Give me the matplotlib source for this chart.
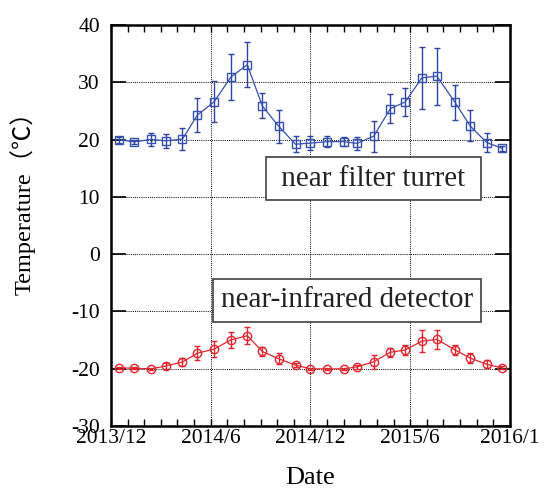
import matplotlib.pyplot as plt
from matplotlib.ticker import MultipleLocator

# months counted from the start of 2013/12
months = [0.5, 1.4, 2.4, 3.3, 4.3, 5.2, 6.2, 7.2, 8.2, 9.1, 10.1, 11.1, 12.0,
          13.0, 14.0, 14.8, 15.8, 16.8, 17.7, 18.7, 19.6, 20.7, 21.6, 22.6, 23.5]

turret = [20.0, 19.6, 20.05, 19.8, 20.1, 24.3, 26.6, 30.9, 33.1, 25.9, 22.3, 19.2, 19.4,
          19.65, 19.65, 19.35, 20.6, 25.4, 26.6, 30.8, 31.1, 26.5, 22.4, 19.5, 18.5]
turret_err = [0.5, 0.4, 1.2, 1.25, 1.9, 3.0, 3.6, 4.0, 3.9, 2.2, 2.85, 1.4, 1.2,
              1.0, 0.8, 1.2, 2.7, 2.5, 2.5, 5.4, 5.0, 3.0, 2.7, 1.7, 0.4]

detector = [-19.85, -19.95, -20.05, -19.55, -18.85, -17.3, -16.6, -15.0, -14.25, -17.0, -18.3,
            -19.4, -20.05, -20.05, -20.05, -19.7, -18.8, -17.15, -16.75, -15.2, -14.9, -16.75,
            -18.15, -19.25, -19.85]
detector_err = [0.2, 0.2, 0.2, 0.6, 0.7, 1.2, 1.4, 1.4, 1.45, 0.8, 0.95, 0.4, 0.2,
                0.2, 0.2, 0.4, 1.2, 0.8, 0.8, 1.95, 1.7, 0.95, 0.95, 0.7, 0.3]

tick_pos = [0, 6, 12, 18, 24]
tick_labels = ['2013/12', '2014/6', '2014/12', '2015/6', '2016/1']

plt.rcParams['font.family'] = ['Liberation Serif', 'Noto Sans CJK JP', 'DejaVu Sans']
plt.rcParams['axes.unicode_minus'] = False

fig = plt.figure(figsize=(5.44, 4.94), dpi=100)
ax = fig.add_axes([0.204, 0.138, 0.7335, 0.811])

blue = '#3450b0'
red = '#e3262e'

ax.errorbar(months, turret, yerr=turret_err, color=blue, lw=0.9, marker='s',
            ms=5.5, mfc='none', mec=blue, mew=1.0, capsize=2.5, elinewidth=1.0,
            ecolor='#2c44a0', zorder=3)
ax.errorbar(months, detector, yerr=detector_err, color=red, lw=0.9, marker='o',
            ms=6, mfc='none', mec=red, mew=1.0, capsize=2.5, elinewidth=1.0,
            ecolor=red, zorder=3)

ax.set_xlim(0, 24)
ax.set_ylim(-30, 40)
ax.set_xticks(tick_pos)
ax.set_xticklabels(tick_labels)
ax.xaxis.set_minor_locator(MultipleLocator(1))
ax.yaxis.set_major_locator(MultipleLocator(10))

ax.grid(True, which='major', color='black', ls=(0, (1, 1.2)), lw=0.7)
ax.tick_params(axis='x', which='both', direction='in', top=True, length=5, width=1,
               labelsize=15.5, pad=2)
ax.tick_params(axis='y', which='major', direction='in', right=True, length=11, width=1.2,
               labelsize=15.5, pad=8)
for s in ax.spines.values():
    s.set_linewidth(1.8)

ax.set_xlabel('Date', fontsize=19, labelpad=14)
ax.set_ylabel('Temperature（℃）', fontsize=17.5)
ax.yaxis.set_label_coords(-0.19, 0.57)

box = dict(boxstyle='square,pad=0.28', fc='white', ec='#404040', lw=1.2)
ax.text(15.8, 13.2, ' near filter turret ', fontsize=21, ha='center', va='center',
        bbox=box, zorder=4, color='#222222')
ax.text(14.2, -8.1, 'near-infrared detector', fontsize=21, ha='center', va='center',
        bbox=box, zorder=4, color='#222222')

fig.savefig('out.png', dpi=100)
